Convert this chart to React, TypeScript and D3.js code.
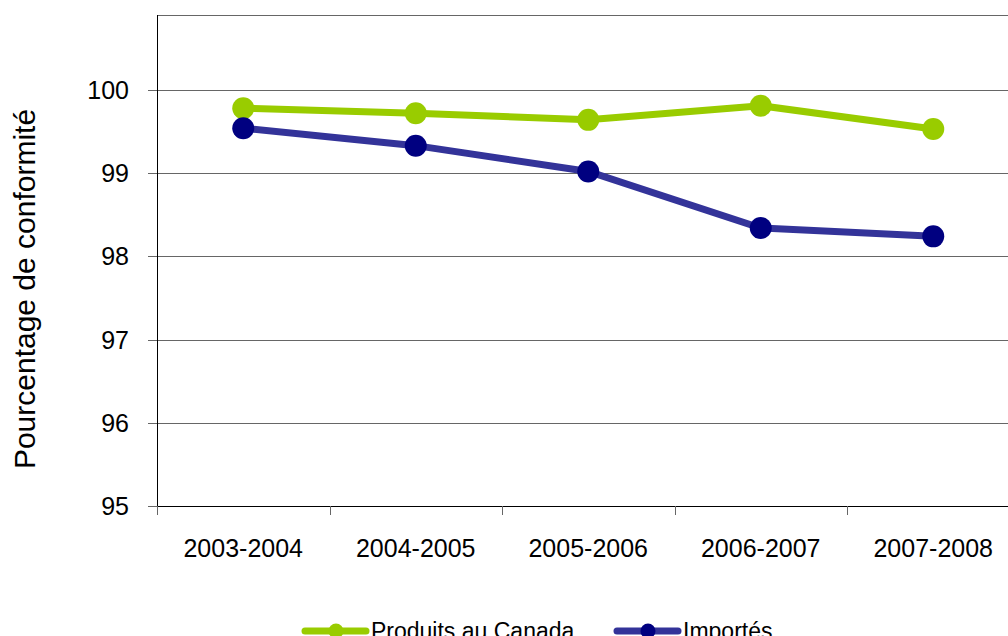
import React from "react";
import * as d3 from "d3";

const categories = ["2003-2004", "2004-2005", "2005-2006", "2006-2007", "2007-2008"];
const produitsCanada = [99.78, 99.72, 99.64, 99.81, 99.53];
const importes = [99.54, 99.33, 99.02, 98.34, 98.24];
const yTicks = [95, 96, 97, 98, 99, 100];

const W = 1008;
const H = 636;
const FONT = "'Liberation Sans', Arial, sans-serif";

export default function App() {
  const left = 157;
  const top = 15;
  const bottom = 506;
  const band = 172.5;

  const x = d3
    .scaleBand<string>()
    .domain(categories)
    .range([left, left + band * categories.length])
    .padding(0);
  const y = d3.scaleLinear().domain([95, 100.9]).range([bottom, top]);

  const cx = (c: string) => (x(c) as number) + x.bandwidth() / 2;

  const line = d3
    .line<number>()
    .x((_, i) => cx(categories[i]))
    .y((v) => y(v));

  const series = [
    { name: "Produits au Canada", values: produitsCanada, line: "#99CC00", marker: "#99CC00" },
    { name: "Importés", values: importes, line: "#333399", marker: "#000080" },
  ];

  const right = left + band * categories.length;

  return (
    <div style={{ position: "absolute", left: 0, top: 0 }}>
      <svg width={W} height={H} style={{ display: "block", background: "#fff" }}>
        {/* plot frame top */}
        <line x1={left} x2={right} y1={top + 0.5} y2={top + 0.5} stroke="#666" strokeWidth={1} />
        {/* horizontal gridlines and y ticks */}
        {yTicks.map((t) => (
          <g key={t}>
            <line
              x1={left - 9}
              x2={right}
              y1={Math.round(y(t)) + 0.5}
              y2={Math.round(y(t)) + 0.5}
              stroke={t === 95 ? "#000" : "#666"}
              strokeWidth={1}
            />
            <line x1={left - 9} x2={left} y1={Math.round(y(t)) + 0.5} y2={Math.round(y(t)) + 0.5} stroke="#666" />
            <text
              x={129}
              y={y(t)}
              textAnchor="end"
              dominantBaseline="central"
              fontFamily={FONT}
              fontSize={25}
              fill="#000"
            >
              {t}
            </text>
          </g>
        ))}
        {/* y axis */}
        <line x1={left + 0.5} x2={left + 0.5} y1={top} y2={bottom} stroke="#000" strokeWidth={1} />
        {/* x ticks */}
        {categories.map((c) => (
          <line
            key={c}
            x1={Math.round(x(c) as number) + 0.5}
            x2={Math.round(x(c) as number) + 0.5}
            y1={bottom}
            y2={bottom + 9}
            stroke="#666"
          />
        ))}
        {categories.map((c) => (
          <text
            key={c + "l"}
            x={cx(c)}
            y={548}
            textAnchor="middle"
            dominantBaseline="central"
            fontFamily={FONT}
            fontSize={25}
            fill="#000"
          >
            {c}
          </text>
        ))}
        {/* y title */}
        <text
          transform={`translate(24, 289) rotate(-90)`}
          textAnchor="middle"
          dominantBaseline="central"
          fontFamily={FONT}
          fontSize={30}
          fill="#000"
        >
          Pourcentage de conformité
        </text>
        {/* series */}
        {series.map((s) => (
          <g key={s.name}>
            <path d={line(s.values) || ""} fill="none" stroke={s.line} strokeWidth={7} />
            {s.values.map((v, i) => (
              <circle key={i} cx={cx(categories[i])} cy={y(v)} r={11} fill={s.marker} />
            ))}
          </g>
        ))}
        {/* legend */}
        {series.map((s, i) => {
          const lx = i === 0 ? 305 : 617;
          const ly = 631;
          return (
            <g key={s.name + "leg"}>
              <line x1={lx} x2={lx + 61} y1={ly} y2={ly} stroke={s.line} strokeWidth={7} strokeLinecap="round" />
              <circle cx={lx + 31} cy={ly} r={7.5} fill={s.marker} />
              <text
                x={lx + 66}
                y={ly}
                dominantBaseline="central"
                fontFamily={FONT}
                fontSize={23}
                fill="#000"
              >
                {s.name}
              </text>
            </g>
          );
        })}
      </svg>
    </div>
  );
}
